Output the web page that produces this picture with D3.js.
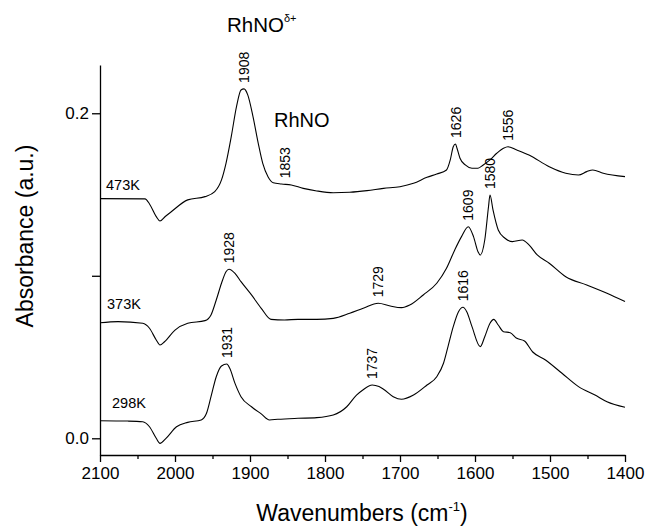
<!DOCTYPE html>
<html>
<head>
<meta charset="utf-8">
<script src="https://cdn.jsdelivr.net/npm/d3@7"></script>
<style>
  html, body { margin: 0; padding: 0; background: #fff; }
  svg { display: block; font-family: "Liberation Sans", Arial, Helvetica, sans-serif; }
</style>
</head>
<body>
<svg id="chart" width="648" height="527"></svg>
<script>
// IR spectra of NO adsorbed on Rh at three temperatures (offset traces)
const wn473 = [2100,2040,2034,2025,2020,2013,2005,1983,1960,1947,1938,1932,1925,1918,1912,1908,1903,1896,1889,1883,1876,1869,1858,1845,1829,1811,1789,1767,1744,1722,1700,1682,1664,1651,1638,1633,1629,1626,1624,1620,1613,1604,1596,1589,1580,1571,1562,1556,1545,1528,1501,1479,1462,1451,1443,1429,1400];
const abs473 = [0.1475,0.1473,0.1442,0.1364,0.1337,0.1365,0.1394,0.1467,0.1487,0.1518,0.1590,0.1692,0.1856,0.2041,0.2143,0.2150,0.2113,0.1979,0.1815,0.1692,0.1610,0.1573,0.1565,0.1559,0.1538,0.1522,0.1511,0.1514,0.1524,0.1538,0.1548,0.1569,0.1606,0.1626,0.1651,0.1713,0.1794,0.1811,0.1785,0.1723,0.1682,0.1662,0.1662,0.1682,0.1713,0.1754,0.1785,0.1794,0.1775,0.1743,0.1671,0.1631,0.1620,0.1641,0.1651,0.1631,0.1610];

const wn373 = [2100,2076,2043,2034,2025,2020,2014,2000,1983,1960,1952,1945,1938,1932,1928,1920,1912,1898,1885,1872,1854,1836,1811,1789,1767,1749,1729,1713,1698,1687,1669,1651,1638,1627,1618,1609,1602,1596,1593,1587,1582,1580,1576,1569,1560,1550,1537,1528,1517,1501,1479,1451,1424,1400];
const abs373 = [0.0711,0.0718,0.0708,0.0677,0.0605,0.0574,0.0594,0.0666,0.0708,0.0724,0.0759,0.0851,0.0954,0.1025,0.1040,0.1015,0.0964,0.0882,0.0800,0.0732,0.0728,0.0732,0.0732,0.0738,0.0769,0.0800,0.0831,0.0814,0.0804,0.0820,0.0882,0.0954,0.1046,0.1159,0.1241,0.1302,0.1241,0.1148,0.1128,0.1220,0.1425,0.1497,0.1405,0.1282,0.1231,0.1210,0.1220,0.1190,0.1128,0.1077,0.0994,0.0943,0.0892,0.0841];

const wn298 = [2100,2063,2043,2034,2025,2020,2012,1998,1983,1965,1958,1952,1945,1938,1931,1927,1920,1912,1898,1885,1874,1863,1836,1811,1789,1771,1758,1750,1737,1728,1722,1709,1698,1682,1664,1651,1642,1636,1629,1622,1616,1611,1604,1593,1587,1580,1575,1569,1562,1553,1545,1534,1523,1506,1484,1462,1440,1424,1400];
const abs298 = [0.0108,0.0106,0.0102,0.0071,0.0000,-0.0031,0.0000,0.0071,0.0098,0.0113,0.0154,0.0256,0.0379,0.0445,0.0457,0.0431,0.0338,0.0256,0.0194,0.0150,0.0113,0.0117,0.0123,0.0127,0.0143,0.0194,0.0266,0.0296,0.0328,0.0318,0.0302,0.0256,0.0240,0.0266,0.0328,0.0379,0.0462,0.0564,0.0687,0.0779,0.0806,0.0779,0.0687,0.0564,0.0625,0.0708,0.0732,0.0697,0.0656,0.0650,0.0617,0.0599,0.0531,0.0482,0.0400,0.0318,0.0266,0.0225,0.0191];

// Band positions marked on each trace
const peaks473 = [1908, 1853, 1626, 1556];
const peaks373 = [1928, 1729, 1609, 1580];
const peaks298 = [1931, 1737, 1616];

const seriesNames = ["473K", "373K", "298K"];

const xTicks = [2100, 2000, 1900, 1800, 1700, 1600, 1500, 1400];
const xMinorTicks = [2050, 1950, 1850, 1750, 1650, 1550, 1450];
const yTicks = [0.0, 0.1, 0.2];
const yTickLabels = ["0.0", "", "0.2"];

const svg = d3.select("#chart");
const x = d3.scaleLinear().domain([2100, 1400]).range([100, 625]);
const y = d3.scaleLinear().domain([-0.01028, 0.2297]).range([455, 65]);

const series = [
  { name: seriesNames[0], pts: wn473.map((w, i) => [w, abs473[i]]), peaks: peaks473 },
  { name: seriesNames[1], pts: wn373.map((w, i) => [w, abs373[i]]), peaks: peaks373 },
  { name: seriesNames[2], pts: wn298.map((w, i) => [w, abs298[i]]), peaks: peaks298 }
];

// Axes
const xAxis = d3.axisBottom(x).tickValues(xTicks).tickFormat(d3.format("d"))
  .tickSize(7).tickSizeOuter(0).tickPadding(5);
const gx = svg.append("g").attr("transform", "translate(0,455)").call(xAxis);
gx.selectAll("text").attr("font-size", 17).attr("fill", "#000").attr("font-family", null);
gx.selectAll("line").attr("stroke", "#000").attr("stroke-width", 1.3);
gx.select(".domain").attr("stroke", "#000").attr("stroke-width", 1.3);
gx.attr("font-family", null);

const xMinor = d3.axisBottom(x).tickValues(xMinorTicks).tickFormat("").tickSize(4).tickSizeOuter(0);
const gxm = svg.append("g").attr("transform", "translate(0,455)").call(xMinor);
gxm.select(".domain").remove();
gxm.selectAll("line").attr("stroke", "#000").attr("stroke-width", 1.3);

const yAxis = d3.axisLeft(y).tickValues(yTicks).tickFormat((d, i) => yTickLabels[i])
  .tickSize(8).tickSizeOuter(0).tickPadding(3);
const gy = svg.append("g").attr("transform", "translate(100,0)").call(yAxis);
gy.selectAll("text").attr("font-size", 17).attr("fill", "#000");
gy.selectAll("line").attr("stroke", "#000").attr("stroke-width", 1.3);
gy.select(".domain").attr("stroke", "#000").attr("stroke-width", 1.3);
gy.attr("font-family", null);

// Spectra
const line = d3.line().x(d => x(d[0])).y(d => y(d[1])).curve(d3.curveMonotoneX);
svg.append("g").selectAll("path").data(series).join("path")
  .attr("d", d => line(d.pts))
  .attr("fill", "none")
  .attr("stroke", "#000")
  .attr("stroke-width", 1.1)
  .attr("stroke-linejoin", "round");

// Absorbance of a trace at a given wavenumber (linear between samples)
function valueAt(pts, w) {
  for (let i = 0; i < pts.length - 1; i++) {
    const a = pts[i], b = pts[i + 1];
    if ((w <= a[0] && w >= b[0])) {
      const t = (a[0] - w) / (a[0] - b[0]);
      return a[1] + t * (b[1] - a[1]);
    }
  }
  return pts[pts.length - 1][1];
}

// Vertical band labels above each peak
series.forEach(s => {
  s.peaks.forEach(p => {
    const px = x(p), py = y(valueAt(s.pts, p)) - 6;
    svg.append("text")
      .attr("transform", `translate(${px + 5},${py}) rotate(-90)`)
      .attr("font-size", 14)
      .attr("text-anchor", "start")
      .text(p);
  });
});

// Trace names
const nameSpots = [[106, 190], [107, 309], [112, 407.7]];
series.forEach((s, i) => {
  svg.append("text")
    .attr("x", nameSpots[i][0]).attr("y", nameSpots[i][1])
    .attr("font-size", 14.5)
    .text(s.name);
});

// Species annotations
const t1 = svg.append("text").attr("x", 227).attr("y", 31.7).attr("font-size", 20.5);
t1.append("tspan").text("RhNO");
t1.append("tspan").attr("font-size", 11).attr("dy", -10).text("δ+");

svg.append("text").attr("x", 274).attr("y", 127.3).attr("font-size", 20).text("RhNO");

// Axis titles
const xt = svg.append("text").attr("x", 362).attr("y", 521).attr("text-anchor", "middle").attr("font-size", 23);
xt.append("tspan").text("Wavenumbers (cm");
xt.append("tspan").attr("font-size", 13).attr("dy", -10).text("-1");
xt.append("tspan").attr("dy", 10).text(")");

svg.append("text")
  .attr("transform", "translate(33,236) rotate(-90)")
  .attr("text-anchor", "middle")
  .attr("font-size", 23)
  .text("Absorbance (a.u.)");
</script>
</body>
</html>
